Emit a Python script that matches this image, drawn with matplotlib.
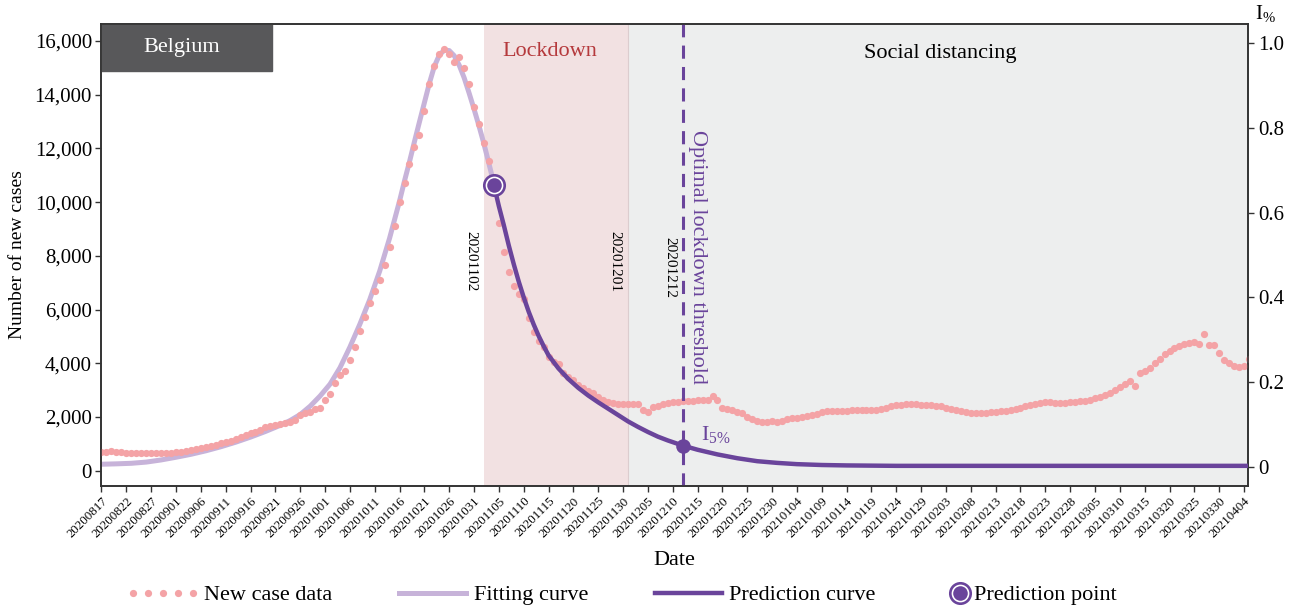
import matplotlib
matplotlib.use('Agg')
import matplotlib.pyplot as plt
from matplotlib.lines import Line2D
from matplotlib.patches import Rectangle
from matplotlib.legend_handler import HandlerLine2D, HandlerTuple
import pandas as pd

plt.rcParams['font.family'] = ['Liberation Serif', 'DejaVu Serif']
plt.rcParams['mathtext.fontset'] = 'custom'
plt.rcParams['mathtext.rm'] = 'Liberation Serif'
plt.rcParams['mathtext.it'] = 'Liberation Serif:italic'

# ---------------- data ----------------
start_date = '20200817'

# daily new cases (Belgium), one value per day from start_date
new_cases = [
    710, 710, 715, 705, 680, 660, 650, 650, 645, 645,
    640, 640, 645, 645, 660, 685, 710, 735, 765, 800,
    835, 870, 915, 960, 1020, 1080, 1120, 1170, 1250, 1330,
    1390, 1450, 1530, 1620, 1660, 1700, 1730, 1770, 1830, 1890,
    2080, 2140, 2190, 2290, 2350, 2630, 2860, 3270, 3560, 3720,
    4120, 4620, 5200, 5720, 6260, 6700, 7100, 7660, 8330, 9110,
    10010, 10710, 11420, 12060, 12500, 13400, 14390, 15070, 15510, 15700,
    15510, 15220, 15400, 14990, 14400, 13540, 12910, 12200, 11530, 10800,
    9230, 8150, 7390, 6880, 6570, 6390, 5670, 5180, 4830, 4620,
    4250, 4060, 3960, 3630, 3480, 3380, 3190, 3070, 2970, 2880,
    2755, 2630, 2545, 2510, 2485, 2485, 2485, 2485, 2485, 2260,
    2175, 2380, 2420, 2470, 2510, 2545, 2570, 2595, 2605, 2605,
    2630, 2630, 2630, 2780, 2620, 2330, 2290, 2270, 2200, 2140,
    2010, 1910, 1850, 1820, 1820, 1840, 1820, 1850, 1910, 1950,
    1980, 2010, 2040, 2080, 2120, 2170, 2220, 2210, 2210, 2220,
    2240, 2260, 2270, 2270, 2270, 2270, 2270, 2290, 2330, 2390,
    2430, 2460, 2470, 2470, 2470, 2460, 2460, 2440, 2420, 2390,
    2350, 2310, 2270, 2220, 2180, 2150, 2140, 2130, 2150, 2180,
    2200, 2220, 2240, 2270, 2310, 2330, 2390, 2450, 2490, 2510,
    2540, 2570, 2530, 2510, 2530, 2550, 2570, 2580, 2600, 2640,
    2690, 2750, 2830, 2900, 2990, 3100, 3210, 3340, 3150, 3650,
    3720, 3810, 4010, 4150, 4330, 4460, 4580, 4650, 4700, 4740,
    4780, 4730, 5080, 4690, 4680, 4400, 4130, 4000, 3910, 3860,
    3880, 4150,
]

# fitting curve (days after start, cases)
fit_days = [0, 3, 6, 9, 12, 15, 18, 21, 24, 27, 30, 33, 36, 38, 40, 42, 44, 46,
            48, 50, 52, 54, 56, 58, 60, 61, 62, 63, 64, 65, 66, 67, 68, 69, 70,
            71, 72, 73, 74, 75, 76, 77, 78, 79]
fit_values = [240, 255, 275, 320, 400, 500, 610, 740, 890, 1060, 1250, 1460,
              1690, 1870, 2090, 2400, 2780, 3220, 3830, 4600, 5450, 6370, 7430,
              8660, 10040, 10790, 11500, 12250, 12980, 13700, 14420, 15050,
              15470, 15660, 15640, 15450, 15100, 14630, 14060, 13460, 12830,
              12160, 11430, 10680]

# prediction curve on the I% axis (days after start, I%)
pred_days = [79, 80, 81, 82, 83, 84, 85, 86, 87, 88, 89, 90, 92, 94, 96, 98,
             100, 102, 104, 106, 108, 110, 112, 114, 117, 120, 124, 128, 132,
             136, 140, 145, 150, 160, 180, 200, 231]
pred_values = [0.665, 0.615, 0.570, 0.522, 0.478, 0.437, 0.400, 0.366, 0.336,
               0.309, 0.285, 0.263, 0.232, 0.207, 0.186, 0.168, 0.152, 0.137,
               0.122, 0.107, 0.094, 0.082, 0.071, 0.062, 0.050, 0.040, 0.029,
               0.020, 0.013, 0.009, 0.006, 0.004, 0.003, 0.002, 0.002, 0.002,
               0.002]

pred_point_day = 79
pred_point_value = 0.665
threshold_value = 0.05

lockdown_start = '20201102'
lockdown_end = '20201201'
threshold_date = '20201212'

tick_labels = [
    '20200817', '20200822', '20200827', '20200901', '20200906', '20200911',
    '20200916', '20200921', '20200926', '20201001', '20201006', '20201011',
    '20201016', '20201021', '20201026', '20201031', '20201105', '20201110',
    '20201115', '20201120', '20201125', '20201130', '20201205', '20201210',
    '20201215', '20201220', '20201225', '20201230', '20210104', '20210109',
    '20210114', '20210119', '20210124', '20210129', '20210203', '20210208',
    '20210213', '20210218', '20210223', '20210228', '20210305', '20210310',
    '20210315', '20210320', '20210325', '20210330', '20210404',
]
left_ticks = [0, 2000, 4000, 6000, 8000, 10000, 12000, 14000, 16000]
right_ticks = [0, 0.2, 0.4, 0.6, 0.8, 1.0]
right_tick_labels = ['0', '0.2', '0.4', '0.6', '0.8', '1.0']

# ---------------- helpers ----------------
t0 = pd.to_datetime(start_date, format='%Y%m%d')


def day_of(s):
    return (pd.to_datetime(s, format='%Y%m%d') - t0).days


days = list(range(len(new_cases)))
tick_pos = [day_of(s) for s in tick_labels]
d_lock_s = day_of(lockdown_start)
d_lock_e = day_of(lockdown_end)
d_thr = day_of(threshold_date)

pink = '#f4a3a6'
lavender = '#c7b3d9'
purple = '#6a449b'
spine_col = '#333333'

# ---------------- figure ----------------
fig = plt.figure(figsize=(12.95, 6.11), dpi=100)
ax = fig.add_axes([101 / 1295, 1 - 486 / 611, (1248 - 101) / 1295, (486 - 24) / 611])

xmax = 230.8
ax.set_xlim(-0.1, xmax)
ax.set_ylim(-570, 16630)

# background periods
ax.axvspan(d_lock_s, d_lock_e, color='#f2e1e2', lw=0, zorder=0)
ax.axvspan(d_lock_e, xmax + 2, color='#edeeee', lw=0, zorder=0)
ax.axvline(d_lock_e, color='#dccdcf', lw=0.8, zorder=0.5)

# fitting curve + data
ax.plot(fit_days, fit_values, color=lavender, lw=3.6, solid_capstyle='round', zorder=2)
ax.plot(days, new_cases, 'o', ms=5.2, color=pink, mec='none', zorder=3)

# box label
ax.add_patch(Rectangle((0, (486 - 71) / 462), (272 - 101) / 1147, (71 - 24) / 462,
                       transform=ax.transAxes, color='#58585a', zorder=4))
ax.text(0.0706, 0.950, 'Belgium', transform=ax.transAxes, color='white',
        fontsize=16, ha='center', va='center', zorder=5)

ax.text(90.3, 15600, 'Lockdown', color='#b5393c', fontsize=16, ha='center', va='center')
ax.text(168.8, 15550, 'Social distancing', color='black', fontsize=16, ha='center', va='center')

for d, s, yv in [(d_lock_s, lockdown_start, 7800), (d_lock_e, lockdown_end, 7800),
                 (d_thr, threshold_date, 7580)]:
    ax.text(d - 2.6, yv, s, rotation=-90, fontsize=11, ha='center', va='center')

ax.text(119.9, 7950, 'Optimal lockdown threshold', rotation=-90, color=purple,
        fontsize=16, ha='center', va='center')

# axes styling
ax.set_xticks(tick_pos)
ax.set_xticklabels(tick_labels, rotation=45, ha='right', rotation_mode='anchor', fontsize=9.3)
ax.set_yticks(left_ticks)
ax.set_yticklabels(['{:,}'.format(v) for v in left_ticks], fontsize=15)
ax.tick_params(axis='x', length=4.5, width=1, pad=2, color=spine_col)
ax.tick_params(axis='y', length=4.5, width=1, pad=2, color=spine_col)
ax.set_ylabel('Number of new cases', fontsize=14, labelpad=6)
ax.set_xlabel('Date', fontsize=16, labelpad=8)

# I% axis
ax2 = ax.twinx()
ax2.set_ylim(-0.0456, 1.0456)
ax2.set_yticks(right_ticks)
ax2.set_yticklabels(right_tick_labels, fontsize=15)
ax2.tick_params(axis='y', length=4.5, width=1, pad=3, color=spine_col)
ax2.axvline(d_thr, color=purple, lw=2.2, dashes=(4.3, 2.7), zorder=2)
ax2.plot(pred_days, pred_values, color=purple, lw=3.2, solid_capstyle='round', zorder=3)
ax2.plot([pred_point_day], [pred_point_value], 'o', ms=14.7, mfc='white', mec=purple,
         mew=1.9, zorder=5)
ax2.plot([pred_point_day], [pred_point_value], 'o', ms=10.5, color=purple, mec='none', zorder=6)
ax2.plot([d_thr], [threshold_value], 'o', ms=10.5, color=purple, mec='none', zorder=6)
ax2.text(d_thr + 3.6, 0.075, r'$\mathrm{I}_{5\%}$', color=purple, fontsize=16,
         ha='left', va='center')
ax2.text(1.006, 1.0, r'$\mathrm{I}_{\%}$', transform=ax2.transAxes, fontsize=15,
         ha='left', va='bottom')

for a in (ax, ax2):
    for sp in a.spines.values():
        sp.set_color(spine_col)
        sp.set_linewidth(1.2)

# legends
h_dots = Line2D([], [], ls='none', marker='o', ms=5.2, color=pink, mec='none')
h_fit = Line2D([], [], color=lavender, lw=3.6)
h_pred = Line2D([], [], color=purple, lw=3.2)
leg1 = fig.legend([h_dots, h_fit, h_pred], ['New case data', 'Fitting curve', 'Prediction curve'],
                  loc='center left', bbox_to_anchor=(130 / 1295, 16 / 611), ncol=3,
                  frameon=False, fontsize=16, handlelength=3.0, handletextpad=0.35,
                  columnspacing=3.0, borderpad=0, borderaxespad=0,
                  handler_map={h_dots: HandlerLine2D(numpoints=5, marker_pad=0.15)})

h_pp_outer = Line2D([], [], ls='none', marker='o', ms=14.7, mfc='white', mec=purple, mew=1.9)
h_pp_inner = Line2D([], [], ls='none', marker='o', ms=10.5, color=purple, mec='none')
fig.legend([(h_pp_outer, h_pp_inner)], ['Prediction point'], loc='center left',
           bbox_to_anchor=(947 / 1295, 16 / 611), frameon=False, fontsize=16,
           handlelength=1.2, handletextpad=0.0, borderpad=0, borderaxespad=0,
           handler_map={tuple: HandlerTuple(ndivide=1)})

fig.savefig('out.png', dpi=100)
